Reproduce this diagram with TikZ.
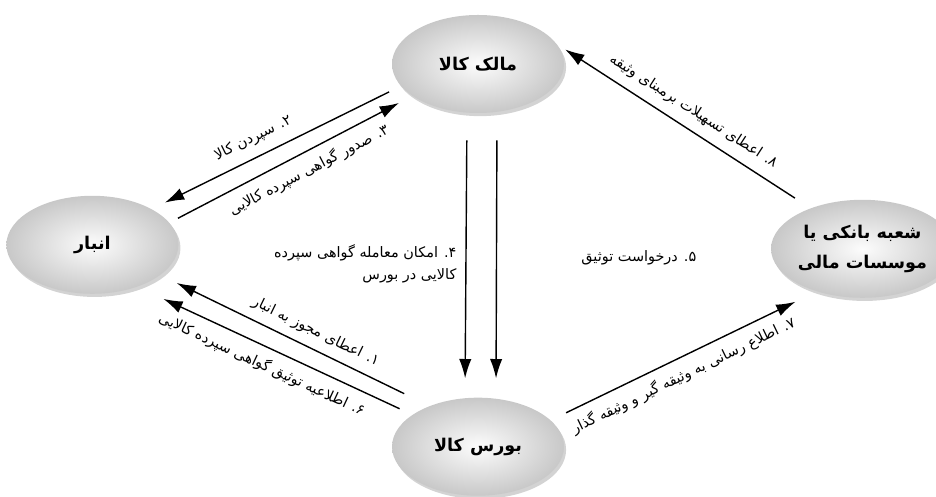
\documentclass[tikz,border=0pt]{standalone}
\usepackage{fontspec}
\usepackage{tikz}
\usetikzlibrary{shapes.geometric, arrows.meta, positioning, shadows}
\TeXXeTstate=1
\newfontfamily\farsi[Script=Arabic]{DejaVu Sans}
\definecolor{nodegray}{HTML}{C8C8C8}
\definecolor{nodelight}{HTML}{FCFCFC}

\begin{document}
\begin{tikzpicture}[
  station/.style={ellipse, inner sep=0pt, minimum width=3.44cm, minimum height=1.96cm,
                  shading=radial, inner color=nodelight, outer color=nodegray,
                  drop shadow={shadow xshift=1.2pt, shadow yshift=-1.8pt, opacity=0.35},
                  font=\farsi\bfseries\fontsize{10}{17}\selectfont, align=center},
  flow/.style={-{Latex[length=11pt, width=7pt]}, line width=0.8pt, black},
  note/.style={font=\farsi\fontsize{8.2}{12.5}\selectfont, inner sep=1pt},
  node distance=2cm and 5cm
]
  \useasboundingbox (0,0) rectangle (18.72,9.94);
  \node[station] (owner) at (9.56,8.66) {\beginR مالک کالا\endR};
  \node[station, below left=2.22cm and 5.27cm of owner]  (store) {\beginR انبار\endR};
  \node[station, below right=2.30cm and 5.17cm of owner] (bank)  {\beginR شعبه بانکی یا\endR\\\beginR موسسات مالی\endR};
  \node[station, below=5.68cm of owner] (bourse) {\beginR بورس کالا\endR};

  \draw[flow, shorten <=0.26cm, shorten >=0.29cm] (owner.196) -- (store.31)
    node[note, pos=0.56, sloped, above=5pt] {\beginR ۲. سپردن کالا\endR};
  \draw[flow, shorten <=0.19cm, shorten >=0.30cm] (store.16) -- (owner.206)
    node[note, pos=0.54, sloped, below=4pt] {\beginR ۳. صدور گواهی سپرده کالایی\endR};
  \draw[flow, shorten <=0.54cm, shorten >=0.38cm] ([xshift=-0.22cm]owner.south) -- ([xshift=-0.26cm]bourse.north)
    node[note, pos=0.53, left=4pt, align=right] {\beginR ۴. امکان معامله گواهی سپرده\endR\\\beginR کالایی در بورس\endR};
  \draw[flow, shorten <=0.54cm, shorten >=0.38cm] ([xshift=0.38cm]owner.south) -- ([xshift=0.36cm]bourse.north)
    node[note, pos=0.507, right=1.65cm] {\beginR ۵. درخواست توثیق\endR};
  \draw[flow, shorten <=0.37cm, shorten >=0.19cm] (bank.142) -- (owner.14)
    node[note, pos=0.50, sloped, above=4.5pt] {\beginR ۸. اعطای تسهیلات برمبنای وثیقه\endR};
  \draw[flow, shorten <=0.34cm, shorten >=0.47cm] (bourse.20) -- (bank.223)
    node[note, pos=0.47, sloped, below=4pt] {\beginR ۷. اطلاع رسانی به وثیقه گیر و وثیقه گذار\endR};
  \draw[flow, shorten <=0.56cm, shorten >=0.36cm] (bourse.140) -- (store.336)
    node[note, pos=0.45, sloped, above=4pt] {\beginR ۱. اعطای مجوز به انبار\endR};
  \draw[flow, shorten <=0.28cm, shorten >=0.57cm] (bourse.154) -- (store.317)
    node[note, pos=0.52, sloped, below=4pt] {\beginR ۶. اطلاعیه توثیق گواهی سپرده کالایی\endR};
\end{tikzpicture}
\end{document}
